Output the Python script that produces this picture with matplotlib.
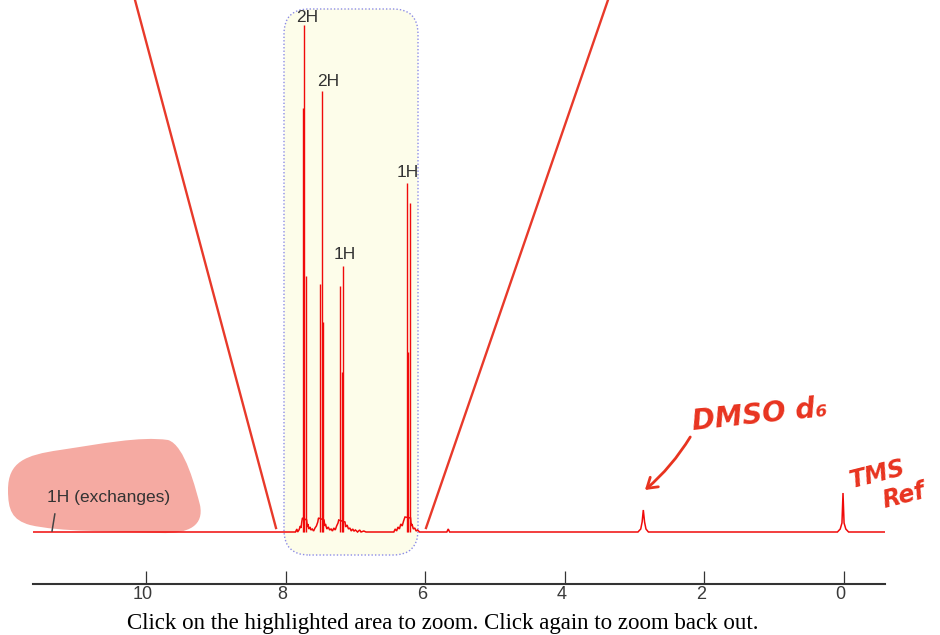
import matplotlib
matplotlib.use('Agg')
import matplotlib.pyplot as plt
from matplotlib.patches import FancyBboxPatch, PathPatch
from matplotlib.path import Path
from matplotlib.lines import Line2D
from matplotlib import font_manager, transforms

# ---------------- data ----------------
# resolved lines of the aromatic multiplets (ppm, intensity)
stick_ppm = [7.752, 7.733, 7.709, 7.504, 7.484, 7.465, 7.222, 7.197, 7.174, 6.265, 6.251, 6.222]
stick_int = [424, 507, 256, 248, 441, 210, 246, 160, 266, 349, 180, 329]

# baseline trace with the small feet, solvent (DMSO) and TMS peaks
trace_ppm = [11.62,
             7.86, 7.84, 7.83, 7.81, 7.79, 7.78, 7.77, 7.76, 7.70, 7.69, 7.68, 7.67, 7.65, 7.64,
             7.62, 7.60, 7.58, 7.56, 7.54, 7.53, 7.45, 7.44, 7.43, 7.41, 7.39, 7.37, 7.35, 7.33,
             7.31, 7.29, 7.27, 7.25, 7.24, 7.15, 7.14, 7.12, 7.10, 7.08, 7.06, 7.04, 7.02, 7.00,
             6.97, 6.94, 6.92, 6.88, 6.85,
             6.45, 6.43, 6.41, 6.39, 6.37, 6.35, 6.33, 6.31, 6.29, 6.21, 6.20, 6.19, 6.17, 6.15,
             6.13, 6.11, 6.08,
             5.69, 5.67, 5.65,
             2.95, 2.91, 2.89, 2.873, 2.855, 2.835, 2.80,
             0.09, 0.05, 0.025, 0.01, -0.005, -0.03, -0.07,
             -0.59]
trace_int = [0,
             0, 3, 0, 2, 6, 4, 10, 14, 12, 5, 8, 3, 5, 2,
             3, 1, 4, 6, 10, 14, 12, 6, 8, 3, 5, 2, 3, 1,
             4, 2, 6, 9, 12, 10, 5, 7, 3, 4, 1, 3, 1, 2,
             0, 2, 0, 1, 0,
             0, 3, 1, 5, 3, 8, 6, 11, 15, 14, 6, 8, 3, 4,
             1, 2, 0,
             0, 3, 0,
             0, 3, 10, 22, 10, 3, 0,
             0, 3, 9, 39, 9, 3, 0,
             0]

tick_vals = [10, 8, 6, 4, 2, 0]
tick_labels = ['10', '8', '6', '4', '2', '0']

peak_labels = ['2H', '2H', '1H', '1H']
label_ppm = [7.697, 7.389, 7.150, 6.257]
label_int = [510, 446, 273, 355]

exch_label = '1H (exchanges)'
exch_ppm = 11.42
exch_int = 30
exch_mark_ppm = [11.35, 11.31]
exch_mark_int = [1, 18]

dmso_note = 'DMSO d\u2086'
tms_note = ['TMS', 'Ref']
arrow_tip = (2.85, 42)
arrow_tail = (2.20, 95)

caption = 'Click on the highlighted area to zoom. Click again to zoom back out.'

# ---------------- style ----------------
RED = '#f00a0a'
PEN = '#e8331f'
DARK = '#333333'

def has_font(name):
    try:
        font_manager.findfont(font_manager.FontProperties(family=name), fallback_to_default=False)
        return True
    except Exception:
        return False

narrow = 'Liberation Sans Narrow' if has_font('Liberation Sans Narrow') else 'Liberation Sans'

W, H = 940, 635
fig = plt.figure(figsize=(W / 100, H / 100), dpi=100)
fig.patch.set_facecolor('white')

ax = fig.add_axes([33 / W, (H - 583.5) / H, (885 - 33) / W, 583.5 / H])
ax.patch.set_visible(False)
ax.set_xlim(11.623, -0.592)
ax.set_ylim(-51.5, 532)

inch = fig.dpi_scale_trans
def px(x, y):
    return x / 100, (H - y) / 100

# highlighted zoom area
bx, by = px(284, 555)
box = FancyBboxPatch((bx, by), 1.34, 5.46, boxstyle='round,pad=0,rounding_size=0.25',
                     transform=inch, facecolor='#fdfdea', edgecolor='#8c8ce6',
                     linestyle=(0, (1, 1.5)), linewidth=1.0, zorder=0.5, clip_on=False)
ax.add_patch(box)

# pink marker blob (hand highlight)
blob_px = [(8, 490), (8, 462), (25, 455), (60, 450),
           (100, 444), (140, 436), (168, 440),
           (185, 445), (196, 490), (200, 505),
           (204, 525), (190, 534), (160, 533),
           (110, 531), (60, 532), (30, 525),
           (12, 520), (8, 510), (8, 490)]
verts = [px(*p) for p in blob_px]
codes = [Path.MOVETO] + [Path.CURVE4] * 18
blob = PathPatch(Path(verts, codes), transform=inch, facecolor='#f5aaa2',
                 edgecolor='none', zorder=0.6, clip_on=False)
ax.add_patch(blob)

# spectrum
ax.plot(trace_ppm, trace_int, color=RED, lw=1.1, zorder=2, solid_joinstyle='miter')
ax.vlines(stick_ppm, 0, stick_int, color=RED, lw=1.0, zorder=2)

# peak integration labels
for lab, x, y in zip(peak_labels, label_ppm, label_int):
    ax.text(x, y, lab, ha='center', va='baseline', fontsize=12.5,
            family='Liberation Sans', color=DARK, zorder=3)
ax.text(exch_ppm, exch_int, exch_label, ha='left', va='baseline', fontsize=12.5,
        family='Liberation Sans', color=DARK, zorder=3)
ax.plot(exch_mark_ppm, exch_mark_int, color='#444444', lw=1.1, zorder=3)

# zoom indicator lines
for (x0, y0), (x1, y1) in [((135, 0), (276, 528)), ((608, 0), (426, 528))]:
    a, b = px(x0, y0)
    c, d = px(x1, y1)
    fig.add_artist(Line2D([a, c], [b, d], transform=inch, color='#e8392a', lw=1.7))

# axis (ruler)
for s in ['left', 'right', 'top']:
    ax.spines[s].set_visible(False)
ax.spines['bottom'].set_color(DARK)
ax.spines['bottom'].set_linewidth(1.5)
ax.yaxis.set_visible(False)
ax.set_xticks(tick_vals)
ax.set_xticklabels(tick_labels, family=narrow, fontsize=13, color='#3a3a3a')
ax.tick_params(axis='x', direction='in', length=9.5, width=0.9, color=DARK, pad=1.5)
shift = transforms.ScaledTranslation(-3.5 / 100, 0, inch)
for t in ax.xaxis.get_major_ticks():
    t.label1.set_transform(t.label1.get_transform() + shift)

# hand-written notes
fig.text(*px(760, 430), dmso_note, transform=inch, color=PEN, fontsize=20,
         family='DejaVu Sans', ha='center', va='baseline', rotation=6, fontweight='bold',
         fontstyle='italic')
fig.text(*px(878, 488), tms_note[0], transform=inch, color=PEN, fontsize=17,
         family='DejaVu Sans', ha='center', va='baseline', rotation=14, fontweight='bold',
         fontstyle='italic')
fig.text(*px(904, 508), tms_note[1], transform=inch, color=PEN, fontsize=17,
         family='DejaVu Sans', ha='center', va='baseline', rotation=14, fontweight='bold',
         fontstyle='italic')
ax.annotate('', xy=arrow_tip, xytext=arrow_tail, annotation_clip=False,
            arrowprops=dict(arrowstyle='->,head_length=0.7,head_width=0.45', color=PEN,
                            lw=2.0, connectionstyle='arc3,rad=-0.08', shrinkA=0, shrinkB=0))

# caption at the bottom edge
fig.text(*px(127, 629), caption, transform=inch, family='Liberation Serif', fontsize=16.5,
         color='black', ha='left', va='baseline')

fig.savefig('out.png', dpi=100)
